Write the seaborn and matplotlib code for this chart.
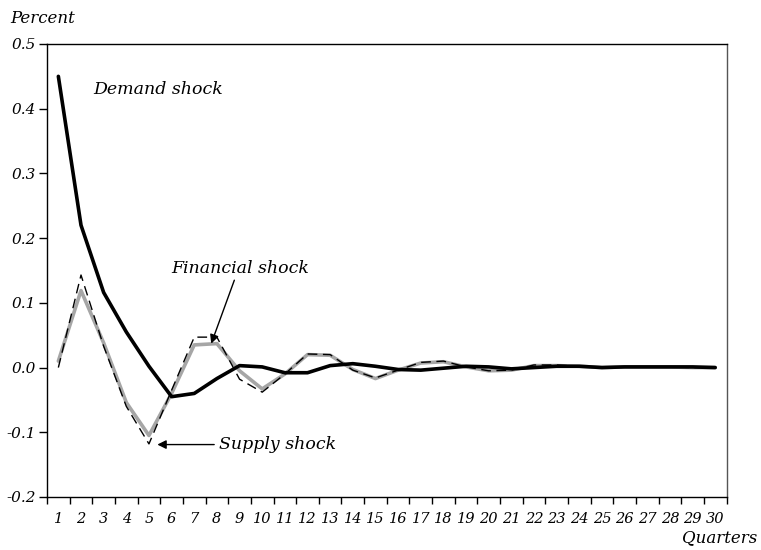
import numpy as np
import pandas as pd
import matplotlib
matplotlib.use("Agg")
import matplotlib.pyplot as plt
from matplotlib.ticker import FixedLocator, NullFormatter
import seaborn as sns

# quarters after the shock
quarters = list(range(1, 31))

# impulse responses, percent
demand = [0.450, 0.220, 0.116, 0.055, 0.002, -0.045, -0.040, -0.017, 0.003, 0.001,
          -0.008, -0.008, 0.003, 0.006, 0.002, -0.003, -0.004, -0.001, 0.002, 0.001,
          -0.002, 0.000, 0.002, 0.002, 0.000, 0.001, 0.001, 0.001, 0.001, 0.000]
financial = [0.010, 0.119, 0.038, -0.054, -0.105, -0.040, 0.035, 0.037, -0.005, -0.033,
             -0.010, 0.020, 0.019, -0.003, -0.017, -0.004, 0.007, 0.009, 0.001, -0.005,
             -0.004, 0.003, 0.003, 0.002, 0.000, 0.001, 0.001, 0.001, 0.000, 0.000]
supply = [0.000, 0.143, 0.033, -0.060, -0.118, -0.035, 0.047, 0.047, -0.018, -0.038,
          -0.010, 0.021, 0.020, -0.004, -0.016, -0.004, 0.008, 0.010, 0.001, -0.005,
          -0.004, 0.004, 0.004, 0.002, 0.000, 0.001, 0.001, 0.001, 0.000, 0.000]

sns.set_style("white")
plt.rcParams["font.family"] = ["DejaVu Serif"]
plt.rcParams["font.style"] = "italic"
plt.rcParams["text.color"] = "black"
plt.rcParams["xtick.color"] = "black"
plt.rcParams["ytick.color"] = "black"
plt.rcParams["xtick.labelcolor"] = "black"
plt.rcParams["ytick.labelcolor"] = "black"

fig = plt.figure(figsize=(7.61, 5.5), dpi=100)
ax = fig.add_axes([0.0618, 0.0964, 0.8929, 0.8236])

sns.lineplot(x=quarters, y=financial, ax=ax, color="#a6a6a6", linewidth=2.6)
sns.lineplot(x=quarters, y=supply, ax=ax, color="black", linewidth=1.0,
             linestyle=(0, (7, 4)))
sns.lineplot(x=quarters, y=demand, ax=ax, color="black", linewidth=2.6)

ax.set_xlim(0.5, 30.5)
ax.set_ylim(-0.2, 0.5)

# category-style x axis: tick marks between quarters, labels on quarters
ax.xaxis.set_major_locator(FixedLocator(np.arange(0.5, 31, 1)))
ax.xaxis.set_major_formatter(NullFormatter())
ax.xaxis.set_minor_locator(FixedLocator(quarters))
ax.set_xticklabels([str(q) for q in quarters], minor=True)
ax.tick_params(axis="x", which="major", direction="out", length=5, width=1,
               bottom=True, color="black")
ax.tick_params(axis="x", which="minor", length=0, pad=11, labelsize=10.5)

ax.set_yticks(np.arange(-0.2, 0.51, 0.1))
ax.set_yticklabels(["-0.2", "-0.1", "0.0", "0.1", "0.2", "0.3", "0.4", "0.5"])
ax.tick_params(axis="y", direction="out", length=6, width=1, left=True,
               color="black", labelsize=11, pad=2)

for side in ["left", "right", "top", "bottom"]:
    ax.spines[side].set_visible(True)
    ax.spines[side].set_color("black")
    ax.spines[side].set_linewidth(1.0)
ax.spines["right"].set_color("#555555")

# labels
fig.text(0.013, 0.967, "Percent", fontsize=12, ha="left", va="center")
fig.text(0.995, 0.022, "Quarters", fontsize=12, ha="right", va="center")

ax.text(2.55, 0.429, "Demand shock", fontsize=12.5, ha="left", va="center")

ax.text(9.03, 0.153, "Financial shock", fontsize=12.5, ha="center", va="center")
ax.annotate("", xy=(7.75, 0.037), xytext=(8.77, 0.135),
            arrowprops=dict(arrowstyle="-|>", color="black", lw=1.0,
                            shrinkA=0, shrinkB=0, mutation_scale=13))

ax.text(8.1, -0.119, "Supply shock", fontsize=12.5, ha="left", va="center")
ax.annotate("", xy=(5.37, -0.119), xytext=(7.88, -0.119),
            arrowprops=dict(arrowstyle="-|>", color="black", lw=1.0,
                            shrinkA=0, shrinkB=0, mutation_scale=13))

fig.savefig("out.png", dpi=100)
